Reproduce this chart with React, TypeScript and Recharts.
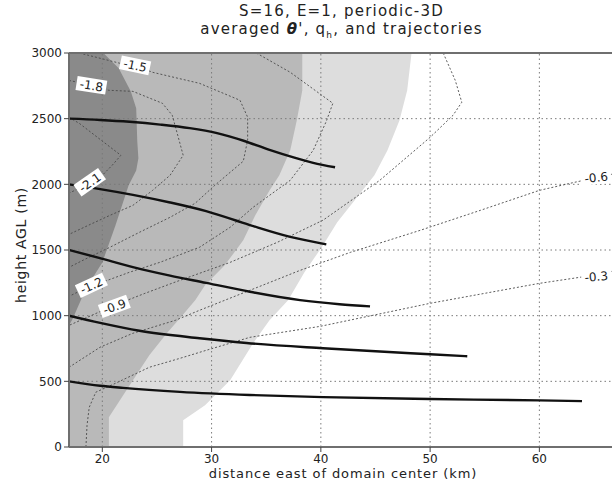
import React from 'react'
import {
  ComposedChart, Area, Line, Scatter, XAxis, YAxis, ReferenceLine,
} from 'recharts'

// axis ticks
const xTicks = [20, 30, 40, 50, 60]
const yTicks = [0, 500, 1000, 1500, 2000, 2500, 3000]
const gridX = [20, 30, 40, 50, 60]
const gridY = [500, 1000, 1500, 2000, 2500]

// q_h shading: eastern edge (km) of each level, by height (m)
const lightEdge: [number, number][] = [
  [27.4, 0], [27.4, 203], [29.4, 318], [31.7, 508], [33.8, 790], [35.3, 965],
  [37.0, 1117], [38.5, 1330], [40.2, 1536], [41.5, 1711], [43.1, 1878],
  [44.9, 2069], [46.1, 2259], [47.2, 2487], [47.9, 2715], [48.3, 3000],
]
const midEdge: [number, number][] = [
  [20.6, 0], [20.6, 226], [22.8, 508], [24.3, 698], [25.9, 866], [27.1, 980],
  [28.5, 1117], [29.4, 1231], [31.2, 1383], [32.9, 1574], [34.0, 1764],
  [35.3, 1954], [36.2, 2069], [37.2, 2259], [37.8, 2487], [38.3, 2715], [38.3, 3000],
]
const darkEdge: [number, number][] = [
  [16.95, 925], [17.3, 978], [18.5, 1207], [20.0, 1405], [21.2, 1687],
  [22.4, 1991], [23.1, 2105], [23.3, 2198], [23.2, 2327], [23.1, 2579],
  [22.6, 2708], [21.5, 2883], [20.1, 3000],
]

// theta' contours (km, m)
const c21: [number, number][] = [
  [16.95, 2510], [17.9, 2464], [19.8, 2342], [21.7, 2221], [20.9, 2145],
  [20.0, 2069], [18.7, 2008], [17.5, 1955], [16.95, 1932],
]
const c18: [number, number][] = [
  [16.95, 2791], [19.1, 2754], [20.6, 2716], [22.8, 2708], [25.5, 2617],
  [26.4, 2526], [26.9, 2374], [27.4, 2221], [26.2, 2069], [24.6, 1954],
  [22.8, 1840], [20.7, 1764], [18.9, 1695], [16.95, 1619],
]
const c15: [number, number][] = [
  [17.9, 3000], [21.6, 2922], [23.0, 2907], [24.6, 2853], [28.9, 2769],
  [32.6, 2640], [33.3, 2511], [33.3, 2336], [32.9, 2176], [30.3, 1993],
  [28.5, 1856], [26.2, 1749], [23.4, 1635], [20.7, 1521], [18.4, 1429], [16.95, 1368],
]
const c12: [number, number][] = [
  [34.1, 3000], [37.2, 2853], [41.1, 2617], [40.5, 2480], [39.3, 2259],
  [37.2, 2031], [33.8, 1825], [31.7, 1673], [28.9, 1521], [25.3, 1407],
  [22.5, 1331], [20.5, 1270], [19.0, 1231], [16.95, 1147],
]
const c09: [number, number][] = [
  [51.2, 3000], [52.3, 2792], [52.9, 2625], [52.1, 2526], [50.0, 2358],
  [45.4, 2031], [40.2, 1727], [36.0, 1558], [31.7, 1406], [27.1, 1269],
  [23.9, 1170], [21.1, 1079], [16.95, 926],
]
const c06: [number, number][] = [
  [16.95, 607], [19.8, 760], [22.8, 866], [26.7, 965], [28.9, 1041],
  [33.5, 1193], [38.1, 1345], [42.7, 1482], [49.1, 1650], [54.6, 1802],
  [60.0, 1954], [63.2, 2015], [66.8, 2080],
]
const c03: [number, number][] = [
  [18.5, 0], [18.6, 165], [18.8, 302], [19.4, 417], [21.2, 485], [24.3, 607],
  [27.1, 675], [29.5, 736], [33.5, 835], [39.9, 918], [50.0, 1094],
  [60.0, 1246], [63.7, 1292], [66.8, 1340],
]

// trajectories (km, m)
const traj2500: [number, number][] = [
  [16.95, 2500], [19.8, 2490], [22.5, 2476], [25.3, 2455], [28.0, 2428],
  [30.5, 2390], [33.0, 2330], [35.3, 2262], [37.5, 2205], [39.3, 2164], [41.3, 2130],
]
const traj2000: [number, number][] = [
  [16.95, 2000], [19.8, 1964], [22.8, 1920], [26.2, 1862], [29.5, 1796],
  [33.5, 1690], [37.2, 1600], [40.5, 1543],
]
const traj1500: [number, number][] = [
  [16.95, 1500], [19.7, 1440], [22.8, 1370], [26.2, 1305], [29.5, 1250],
  [33.5, 1182], [38.1, 1118], [41.7, 1087], [44.5, 1071],
]
const traj1000: [number, number][] = [
  [16.95, 1000], [19.8, 945], [23.4, 885], [28.9, 828], [33.2, 792],
  [40.2, 752], [50.0, 706], [53.4, 691],
]
const traj500: [number, number][] = [
  [16.95, 500], [19.8, 466], [21.9, 450], [27.1, 420], [33.5, 396],
  [40.2, 380], [50.0, 365], [60.0, 355], [63.9, 349],
]

const contourLabels = [
  { x: 23.0, h: 2906, text: '-1.5' },
  { x: 19.0, h: 2754, text: '-1.8' },
  { x: 18.85, h: 2016, text: '-2.1' },
  { x: 19.0, h: 1231, text: '-1.2' },
  { x: 21.1, h: 1071, text: '-0.9' },
  { x: 65.2, h: 2054, text: '-0.6' },
  { x: 65.2, h: 1300, text: '-0.3' },
]
const labelAngles: Record<string, number> = {
  '-1.5': 12, '-1.8': 9, '-2.1': -35, '-1.2': -25, '-0.9': -20, '-0.6': -6, '-0.3': -5,
}

const pts = (a: [number, number][]) => a.map(([x, h]) => ({ x, h }))

const font = 'DejaVu Sans'
const contourColor = '#4a4a4a'
const frameColor = '#6f6f6f'

const ContourLabel = (props: any) => {
  const { cx, cy, payload } = props
  if (cx == null || cy == null) return null
  const angle = labelAngles[payload.text] ?? 0
  return (
    <g transform={`translate(${cx},${cy}) rotate(${angle})`}>
      <rect x={-15} y={-7} width={30} height={14} fill="#ffffff" />
      <text x={0} y={4.5} textAnchor="middle" fontSize={12} fontFamily={font} fill="#222">
        {payload.text}
      </text>
    </g>
  )
}

const contours = [c21, c18, c15, c12, c09, c06, c03]
const trajectories = [traj2500, traj2000, traj1500, traj1000, traj500]

export default function App() {
  return (
    <div style={{ position: 'absolute', left: 0, top: 0, width: 612, height: 479, overflow: 'hidden', background: '#fff', fontFamily: font, color: '#222' }}>
      <div style={{ position: 'absolute', left: 69, width: 545, top: 2, textAlign: 'center', fontSize: 15, lineHeight: '18px', letterSpacing: 1.2 }}>
        <div>S=16, E=1, periodic-3D</div>
        <div>averaged <b><i>θ</i></b>', q<sub style={{ fontSize: 9, lineHeight: 0 }}>h</sub>, and trajectories</div>
      </div>
      <div style={{ position: 'absolute', left: 21, top: 245, transform: 'translate(-50%, -50%) rotate(-90deg)', whiteSpace: 'nowrap', fontSize: 14, lineHeight: 1, letterSpacing: 0.7 }}>
        height AGL (m)
      </div>
      <div style={{ position: 'absolute', left: 343, top: 473, transform: 'translate(-50%, -50%)', whiteSpace: 'nowrap', fontSize: 13, lineHeight: 1, letterSpacing: 0.9 }}>
        distance east of domain center (km)
      </div>
      <ComposedChart
        width={620}
        height={479}
        layout="vertical"
        margin={{ top: 53, right: 6, bottom: 12, left: 0 }}
      >
        <XAxis
          dataKey="x"
          type="number"
          domain={[16.95, 66.83]}
          ticks={xTicks}
          interval={0}
          allowDataOverflow
          height={20}
          tickSize={5}
          tickMargin={2}
          tick={{ fontSize: 12, fill: '#222', fontFamily: font }}
          axisLine={{ stroke: frameColor, strokeWidth: 2 }}
          tickLine={{ stroke: '#444' }}
        />
        <YAxis
          dataKey="h"
          type="number"
          domain={[0, 3000]}
          ticks={yTicks}
          interval={0}
          reversed
          allowDataOverflow
          width={69}
          tickSize={5}
          tick={{ fontSize: 12, fill: '#222', fontFamily: font }}
          axisLine={{ stroke: frameColor, strokeWidth: 2 }}
          tickLine={{ stroke: '#444' }}
        />
        <Area data={pts(lightEdge)} dataKey="x" type="linear" fill="#dddddd" fillOpacity={1} stroke="none" baseValue="dataMin" dot={false} activeDot={false} isAnimationActive={false} />
        <Area data={pts(midEdge)} dataKey="x" type="linear" fill="#b9b9b9" fillOpacity={1} stroke="none" baseValue="dataMin" dot={false} activeDot={false} isAnimationActive={false} />
        <Area data={pts(darkEdge)} dataKey="x" type="linear" fill="#8a8a8a" fillOpacity={1} stroke="none" baseValue="dataMin" dot={false} activeDot={false} isAnimationActive={false} />
        {gridX.map((v) => (
          <ReferenceLine key={`gx${v}`} x={v} stroke="#7a7a7a" strokeWidth={1} strokeDasharray="1.5 3" />
        ))}
        {gridY.map((v) => (
          <ReferenceLine key={`gy${v}`} y={v} stroke="#7a7a7a" strokeWidth={1} strokeDasharray="1.5 3" />
        ))}
        {contours.map((c, i) => (
          <Line key={`c${i}`} data={pts(c)} dataKey="x" type="linear" stroke={contourColor} strokeWidth={0.9} strokeDasharray="2 2" dot={false} activeDot={false} isAnimationActive={false} />
        ))}
        {trajectories.map((t, i) => (
          <Line key={`t${i}`} data={pts(t)} dataKey="x" type="monotoneX" stroke="#111" strokeWidth={2.4} dot={false} activeDot={false} isAnimationActive={false} />
        ))}
        <Scatter data={contourLabels} shape={ContourLabel} isAnimationActive={false} />
        <ReferenceLine y={3000} stroke={frameColor} strokeWidth={2} />
      </ComposedChart>
    </div>
  )
}
